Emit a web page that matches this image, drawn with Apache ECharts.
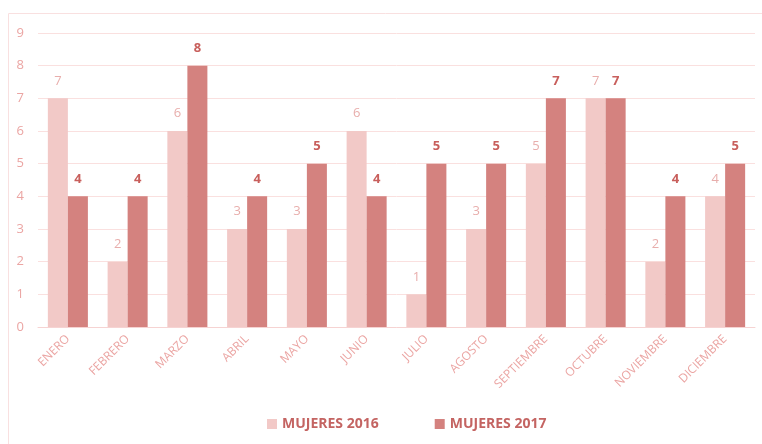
<!DOCTYPE html>
<html lang="es">
<head>
    <meta charset="UTF-8">
    <title>Mujeres 2016 / 2017</title>
    <style>
        html, body { margin: 0; padding: 0; background: #fff; }
    </style>
</head>
<body>
    <div id="chart" style="width: 762px;height:444px;"></div>
    <script src="https://cdn.jsdelivr.net/npm/echarts@6/dist/echarts.min.js"></script>
    <script type="text/javascript">
       var meses = ['ENERO', 'FEBRERO', 'MARZO', 'ABRIL', 'MAYO', 'JUNIO', 'JULIO',
           'AGOSTO', 'SEPTIEMBRE', 'OCTUBRE', 'NOVIEMBRE', 'DICIEMBRE'];
       var mujeres2016 = [7, 2, 6, 3, 3, 6, 1, 3, 5, 7, 2, 4];
       var mujeres2017 = [4, 4, 8, 4, 5, 4, 5, 5, 7, 7, 4, 5];

       var myChart = echarts.init(document.getElementById('chart'));
       var fuente = '"Open Sans", "Liberation Sans", sans-serif';

       var option = {
           animation: false,
           textStyle: { fontFamily: fuente },
           // marco exterior claro
           graphic: [{
               type: 'rect',
               shape: { x: 8.5, y: 13.5, width: 760, height: 440 },
               style: { fill: 'none', stroke: '#f9e0e0', lineWidth: 1 }
           }],
           grid: { left: 38, right: 7, top: 33, bottom: 117 },
           legend: {
               bottom: 8,
               left: 262,
               itemWidth: 10,
               itemHeight: 10,
               itemGap: 56,
               icon: 'rect',
               textStyle: { color: '#c46462', fontWeight: 'bold', fontSize: 14, fontFamily: fuente }
           },
           xAxis: {
               type: 'category',
               data: meses,
               axisLine: { lineStyle: { color: '#f6d3d2' } },
               axisTick: { show: false },
               axisLabel: {
                   rotate: 45,
                   color: '#eba5a3',
                   fontSize: 12,
                   interval: 0,
                   margin: 10
               }
           },
           yAxis: {
               type: 'value',
               min: 0,
               max: 9,
               interval: 1,
               axisLine: { show: false },
               axisTick: { show: false },
               axisLabel: { color: '#eba5a3', fontSize: 13, margin: 14 },
               splitLine: { lineStyle: { color: '#fae0df' } }
           },
           series: [{
               name: 'MUJERES 2016',
               type: 'bar',
               data: mujeres2016,
               barGap: 0,
               barCategoryGap: '33%',
               itemStyle: { color: '#f2c9c7' },
               label: {
                   show: true,
                   position: 'top',
                   distance: 11,
                   color: '#e8aeac',
                   fontSize: 13
               }
           }, {
               name: 'MUJERES 2017',
               type: 'bar',
               data: mujeres2017,
               barGap: 0,
               barCategoryGap: '33%',
               itemStyle: { color: '#d4827f' },
               label: {
                   show: true,
                   position: 'top',
                   distance: 11,
                   color: '#c85f5c',
                   fontWeight: 'bold',
                   fontSize: 13
               }
           }]
       };
       myChart.setOption(option);
    </script>
</body>
</html>
